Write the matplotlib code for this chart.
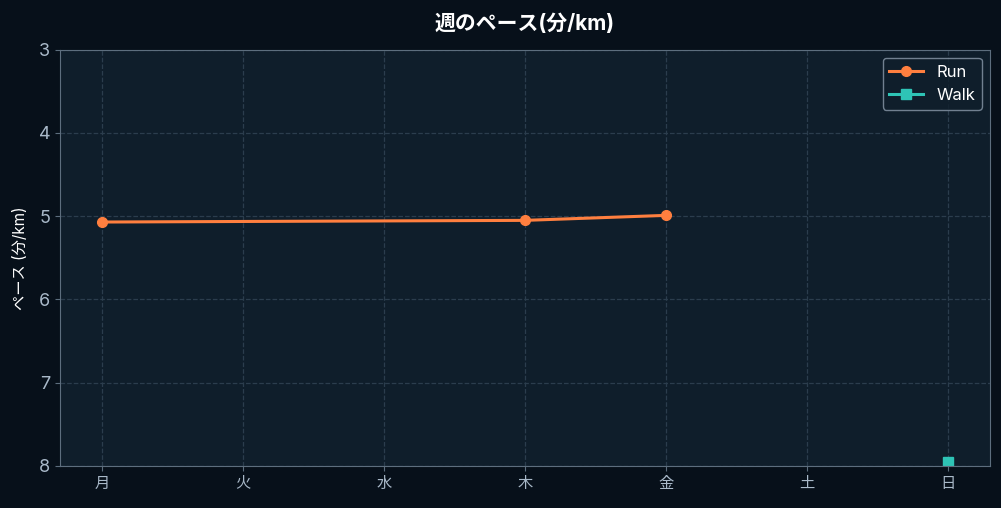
import matplotlib
matplotlib.use("Agg")
import matplotlib.pyplot as plt
import numpy as np

plt.rcParams['font.family'] = ['Inter', 'Noto Sans CJK JP', 'DejaVu Sans']

days = ['月', '火', '水', '木', '金', '土', '日']
run_pace = [5.07, None, None, 5.05, 4.99, None, None]
walk_pace = [None, None, None, None, None, None, 7.95]

bg = '#07101a'
panel = '#0f1e2b'
spine_c = '#5d6e7e'
text_c = '#a9b9c9'
grid_c = '#2b3d4d'

fig, ax = plt.subplots(figsize=(10.01, 5.08), dpi=100)
fig.patch.set_facecolor(bg)
ax.set_facecolor(panel)

x = np.arange(len(days))

def valid(vals):
    idx = [i for i, v in enumerate(vals) if v is not None]
    return [x[i] for i in idx], [vals[i] for i in idx]

rx, ry = valid(run_pace)
wx, wy = valid(walk_pace)
ax.plot(rx, ry, color='#ff7f3f', marker='o', markersize=7, linewidth=2.2, label='Run')
ax.plot(wx, wy, color='#2ec4b6', marker='s', markersize=7, linewidth=2.2, label='Walk')

ax.set_xlim(-0.3, 6.3)
ax.set_ylim(8, 3)
ax.set_xticks(x)
ax.set_xticklabels(days)
ax.set_yticks([3, 4, 5, 6, 7, 8])

ax.grid(True, color=grid_c, linestyle='--', linewidth=0.9)
for s in ax.spines.values():
    s.set_color(spine_c)
ax.tick_params(colors=spine_c, labelcolor=text_c, labelsize=11)
for lab in ax.get_yticklabels():
    lab.set_fontsize(13)

ax.set_ylabel('ペース (分/km)', color='white', fontsize=11, labelpad=8)
ax.set_title('週のペース(分/km)', color='white', fontsize=15, fontweight='bold', pad=14)

leg = ax.legend(loc='upper right', facecolor=panel, edgecolor='#8a9aaa', fontsize=12)
for t in leg.get_texts():
    t.set_color('white')

plt.subplots_adjust(left=0.06, right=0.989, top=0.902, bottom=0.083)
plt.savefig('out.png', dpi=100, facecolor=bg)
